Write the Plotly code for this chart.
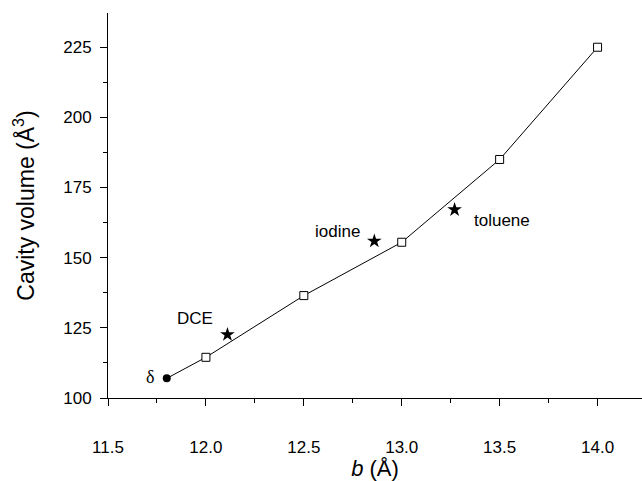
import plotly.graph_objects as go

# Data
b_vals = [11.8, 12.0, 12.5, 13.0, 13.5, 14.0]
cavity_vol = [107.0, 114.5, 136.5, 155.5, 185.0, 225.0]
delta_label = "δ"
guest_names = ["DCE", "iodine", "toluene"]
guest_b = [12.11, 12.86, 13.27]
guest_vol = [122.6, 155.9, 167.1]

x_ticks = [11.5, 12.0, 12.5, 13.0, 13.5, 14.0]
y_ticks = [100, 125, 150, 175, 200, 225]

FONT = "Liberation Sans, Arial, sans-serif"

fig = go.Figure()

# connecting line
fig.add_trace(go.Scatter(x=b_vals, y=cavity_vol, mode="lines",
                         line=dict(color="black", width=1), showlegend=False))
# delta form point
fig.add_trace(go.Scatter(x=b_vals[:1], y=cavity_vol[:1], mode="markers",
                         marker=dict(symbol="circle", size=8, color="black"),
                         showlegend=False))
# calculated cavity points
fig.add_trace(go.Scatter(x=b_vals[1:], y=cavity_vol[1:], mode="markers",
                         marker=dict(symbol="square", size=8, color="white",
                                     line=dict(color="black", width=1)),
                         showlegend=False))
# guest points
fig.add_trace(go.Scatter(x=guest_b, y=guest_vol, mode="markers",
                         marker=dict(symbol="star", size=11, color="black"),
                         showlegend=False))

label_offsets = {"DCE": (-32, 16), "iodine": (-37, 10), "toluene": (47, -11)}
for name, xv, yv in zip(guest_names, guest_b, guest_vol):
    dx, dy = label_offsets[name]
    fig.add_annotation(x=xv, y=yv, text=name, showarrow=False,
                       xshift=dx, yshift=dy,
                       font=dict(family=FONT, size=17, color="black"))
fig.add_annotation(x=b_vals[0], y=cavity_vol[0], text=delta_label, showarrow=False,
                   xshift=-17, yshift=1,
                   font=dict(family="Liberation Serif, Times New Roman, serif", size=18, color="black"))

fig.update_layout(
    width=642, height=481,
    margin=dict(l=108, r=0, t=13, b=83),
    paper_bgcolor="white", plot_bgcolor="white",
    font=dict(family=FONT, size=17, color="black"),
)
fig.update_xaxes(
    range=[11.5, 14.227], tickvals=x_ticks,
    ticktext=[f"{v:.1f}" for v in x_ticks],
    showline=True, linecolor="black", linewidth=1,
    showgrid=False, zeroline=False,
    ticks="outside", ticklen=7, tickwidth=1, tickcolor="black",
    ticklabelstandoff=27,
    tickfont=dict(family=FONT, size=17, color="black"),
    minor=dict(ticks="outside", ticklen=4, tickwidth=1, tickcolor="black", dtick=0.25, showgrid=False),
    title=dict(text="<i>b</i> (Å)", font=dict(family=FONT, size=22, color="black"), standoff=3),
)
fig.update_yaxes(
    range=[100, 237.2], tickvals=y_ticks,
    showline=True, linecolor="black", linewidth=1,
    showgrid=False, zeroline=False,
    ticks="outside", ticklen=7, tickwidth=1, tickcolor="black",
    ticklabelstandoff=5,
    tickfont=dict(family=FONT, size=17, color="black"),
    minor=dict(ticks="outside", ticklen=4, tickwidth=1, tickcolor="black", dtick=12.5, showgrid=False),
    title=dict(text="Cavity volume (Å<sup>3</sup>)", font=dict(family=FONT, size=23, color="black"), standoff=22),
)

fig.write_html("out.html")
